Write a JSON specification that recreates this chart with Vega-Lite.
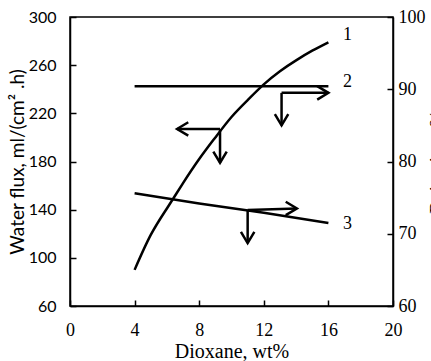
{
  "$schema": "https://vega.github.io/schema/vega-lite/v6.json",
  "width": 323,
  "height": 289,
  "autosize": {"type": "none"},
  "padding": {"left": 70, "top": 17, "right": 38, "bottom": 55},
  "background": "white",
  "config": {
    "view": {"stroke": "black", "strokeWidth": 1.5},
    "font": "Liberation Serif",
    "axis": {
      "labelFont": "Liberation Serif",
      "titleFont": "Liberation Serif",
      "labelColor": "black",
      "titleColor": "black",
      "domainColor": "black",
      "domainWidth": 1.5,
      "tickColor": "black",
      "tickWidth": 1.5,
      "grid": false,
      "labelFontSize": 18,
      "titleFontSize": 20,
      "titleFontWeight": "normal",
      "tickSize": -6
    }
  },
  "layer": [
    {
      "encoding": {
        "x": {
          "field": "x",
          "type": "quantitative",
          "scale": {"domain": [0, 20], "nice": false, "zero": false},
          "axis": {"values": [0, 4, 8, 12, 16, 20], "title": "Dioxane,  wt%", "labelFlush": false, "labelPadding": 21, "titlePadding": 2}
        },
        "y": {
          "field": "y",
          "type": "quantitative",
          "scale": {"domain": [60, 300], "nice": false, "zero": false},
          "axis": {"orient": "left", "values": [60, 100, 140, 180, 220, 260, 300], "title": "Water flux,  ml/(cm\u00b2 .h)", "labelFont": "Lato", "labelFontSize": 16, "titleFont": "Lato", "titleFontSize": 19, "labelPadding": 20, "titlePadding": 1}
        }
      },
      "layer": [
        {
          "data": {"values": [
            {"x": 4, "y": 90}, {"x": 5, "y": 119}, {"x": 6, "y": 141}, {"x": 7, "y": 162},
            {"x": 8, "y": 182}, {"x": 9, "y": 200}, {"x": 10, "y": 217}, {"x": 11, "y": 231},
            {"x": 12, "y": 244}, {"x": 13, "y": 255}, {"x": 14, "y": 264}, {"x": 15, "y": 272},
            {"x": 16, "y": 279}
          ]},
          "mark": {"type": "line", "color": "black", "strokeWidth": 2.5, "interpolate": "natural"}
        },
        {
          "data": {"values": [
            {"x": 9.29, "y": 207, "x2": 6.63, "y2": 207},
            {"x": 9.29, "y": 207, "x2": 9.29, "y2": 179}
          ]},
          "mark": {"type": "rule", "color": "black", "strokeWidth": 2.5},
          "encoding": {"x2": {"field": "x2"}, "y2": {"field": "y2"}}
        },
        {
          "data": {"values": [
            {"x": 6.63, "y": 207, "a": 180},
            {"x": 9.29, "y": 179, "a": 90}
          ]},
          "mark": {"type": "point", "shape": "M-1,-0.6L0,0L-1,0.6", "filled": false, "stroke": "black", "strokeWidth": 2.5, "size": 500, "opacity": 1},
          "encoding": {"angle": {"field": "a", "type": "quantitative", "scale": null}}
        },
        {
          "data": {"values": [{"x": 16.9, "y": 285, "t": "1"}]},
          "mark": {"type": "text", "font": "Liberation Serif", "fontSize": 18, "color": "black", "align": "left", "baseline": "middle"},
          "encoding": {"text": {"field": "t"}}
        }
      ]
    },
    {
      "encoding": {
        "x": {"field": "x", "type": "quantitative", "scale": {"domain": [0, 20], "nice": false, "zero": false}},
        "y": {
          "field": "r",
          "type": "quantitative",
          "scale": {"domain": [60, 100], "nice": false, "zero": false},
          "axis": {"orient": "right", "values": [60, 70, 80, 90, 100], "title": "Rejection, %", "titleAngle": -90, "labelPadding": 11, "titlePadding": 22}
        }
      },
      "layer": [
        {
          "data": {"values": [{"x": 4, "r": 90.4}, {"x": 16, "r": 90.4}]},
          "mark": {"type": "line", "color": "black", "strokeWidth": 2.5}
        },
        {
          "data": {"values": [
            {"x": 4, "r": 75.6}, {"x": 8, "r": 74.2}, {"x": 12, "r": 72.9}, {"x": 16, "r": 71.5}
          ]},
          "mark": {"type": "line", "color": "black", "strokeWidth": 2.5}
        },
        {
          "data": {"values": [
            {"x": 13.1, "r": 89.5, "x2": 16, "r2": 89.5},
            {"x": 13.1, "r": 89.5, "x2": 13.1, "r2": 85.0},
            {"x": 11, "r": 73.3, "x2": 14.05, "r2": 73.5},
            {"x": 11, "r": 73.3, "x2": 11, "r2": 68.7}
          ]},
          "mark": {"type": "rule", "color": "black", "strokeWidth": 2.5},
          "encoding": {"x2": {"field": "x2"}, "y2": {"field": "r2"}}
        },
        {
          "data": {"values": [
            {"x": 16, "r": 89.5, "a": 0},
            {"x": 13.1, "r": 85.0, "a": 90},
            {"x": 14.05, "r": 73.5, "a": 0},
            {"x": 11, "r": 68.7, "a": 90}
          ]},
          "mark": {"type": "point", "shape": "M-1,-0.6L0,0L-1,0.6", "filled": false, "stroke": "black", "strokeWidth": 2.5, "size": 500, "opacity": 1},
          "encoding": {"angle": {"field": "a", "type": "quantitative", "scale": null}}
        },
        {
          "data": {"values": [{"x": 16.9, "r": 91.0, "t": "2"}, {"x": 16.9, "r": 71.3, "t": "3"}]},
          "mark": {"type": "text", "font": "Liberation Serif", "fontSize": 18, "color": "black", "align": "left", "baseline": "middle"},
          "encoding": {"text": {"field": "t"}}
        }
      ]
    }
  ],
  "resolve": {"scale": {"y": "independent"}, "axis": {"y": "independent"}}
}
